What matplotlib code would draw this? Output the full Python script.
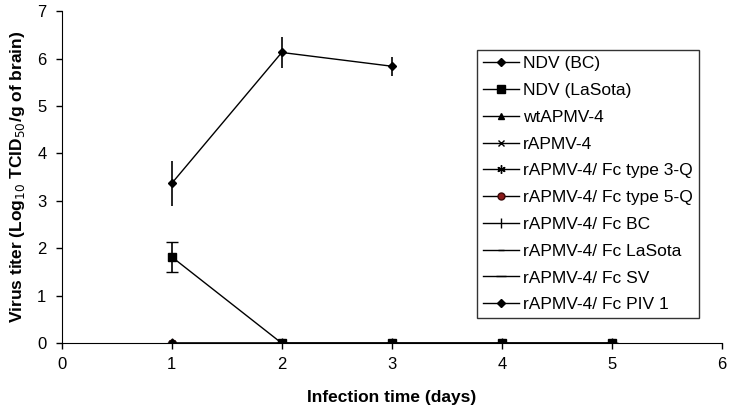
import matplotlib
matplotlib.use('Agg')
import matplotlib.pyplot as plt
from matplotlib.lines import Line2D

plt.rcParams['font.family'] = ['Liberation Sans', 'DejaVu Sans']

# data
days = [1, 2, 3, 4, 5]
bc_days = [1, 2, 3]
bc_titer = [3.37, 6.13, 5.84]
bc_err = [0.47, 0.33, 0.2]
lasota_titer = [1.82, 0, 0, 0, 0]
lasota_err = [0.32, 0, 0, 0, 0]
zero_titer = [0, 0, 0, 0, 0]

labels = ['NDV (BC)', 'NDV (LaSota)', 'wtAPMV-4', 'rAPMV-4', 'rAPMV-4/ Fc type 3-Q',
          'rAPMV-4/ Fc type 5-Q', 'rAPMV-4/ Fc BC', 'rAPMV-4/ Fc LaSota', 'rAPMV-4/ Fc SV',
          'rAPMV-4/ Fc PIV 1']
markers = ['D', 's', '^', 'x', (6, 2, 0), 'o', '|', '_', '_', 'D']
sizes = [4.5, 6, 5, 5, 6, 5, 7, 4, 7, 4.5]
colors = ['black', 'black', 'black', 'black', 'black', '#8b1a1a', 'black', 'black', 'black', 'black']

fig = plt.figure(figsize=(7.35, 4.15), dpi=100)
ax = fig.add_axes([0.084, 0.173, 0.898, 0.80])

ax.errorbar(bc_days, bc_titer, yerr=bc_err, color='black', lw=1, marker=markers[0], ms=sizes[0],
            elinewidth=1.2, capsize=0, zorder=4)
ax.errorbar(days, lasota_titer, yerr=lasota_err, color='black', lw=1, marker=markers[1], ms=sizes[1],
            elinewidth=1.2, capsize=4, zorder=5)
for m, s, c in zip(markers[2:], sizes[2:], colors[2:]):
    ax.plot(days, zero_titer, color='black', lw=1, marker=m, ms=s, mfc=c,
            mec='black' if c == 'black' else '#3a0a0a', zorder=3)

handles = []
for m, s, c in zip(markers, sizes, colors):
    handles.append(Line2D([], [], color='black', lw=1, marker=m, ms=s, mfc=c,
                          mec='black' if c == 'black' else '#3a0a0a'))

ax.set_xlim(0, 6)
ax.set_ylim(0, 7)
ax.set_xticks(range(7))
ax.set_yticks(range(8))
ax.spines['top'].set_visible(False)
ax.spines['right'].set_visible(False)
ax.tick_params(labelsize=12, length=4, width=1, direction='out')
ax.tick_params(axis='y', pad=7)
ax.tick_params(axis='x', pad=6)
ax.set_xlabel('Infection time (days)', fontsize=12.5, fontweight='bold', labelpad=13)
ax.set_ylabel('Virus titer (Log$_{10}$ TCID$_{50}$/g of brain)', fontsize=12.5,
              fontweight='bold', labelpad=7)

leg = ax.legend(handles, labels, loc='upper left', bbox_to_anchor=(0.629, 0.883),
                borderaxespad=0, fontsize=12.5, frameon=True, fancybox=False,
                edgecolor='black', labelspacing=0.67, handlelength=2.1,
                handletextpad=0.2, borderpad=0.35)
leg.get_frame().set_linewidth(1)

fig.savefig('out.png', dpi=100)
